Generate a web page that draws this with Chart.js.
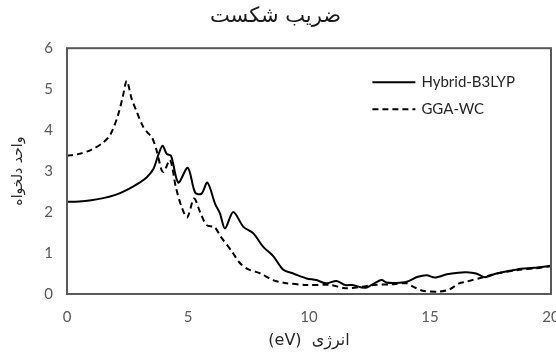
<!DOCTYPE html>
<html><head><meta charset="utf-8">
<script src="https://cdn.jsdelivr.net/npm/chart.js@4"></script>
<style>html,body{margin:0;padding:0;background:#fff}#w{width:556px;height:356px}</style>
</head><body><div id="w"><canvas id="c"></canvas></div>
<script>
const chartTitle = "ضریب شکست";
const xAxisTitle = "(eV)  انرژی";
const yAxisTitle = "واحد دلخواه";
const seriesNames = ["Hybrid-B3LYP", "GGA-WC"];
const xTicks = [0, 5, 10, 15, 20];
const yTicks = [0, 1, 2, 3, 4, 5, 6];

const hybridEnergy = [0,0.5,1.0,1.5,2.0,2.5,3.0,3.3,3.57,3.77,3.95,4.12,4.3,4.6,4.99,5.3,5.56,5.8,6.12,6.32,6.53,6.87,7.29,7.7,8.11,8.53,8.94,9.35,9.9,10.3,10.7,11.14,11.5,11.8,12.3,12.7,13.0,13.2,13.6,14.04,14.5,14.86,15.2,15.7,16.17,16.5,16.9,17.27,17.75,18.6,19.3,20];
const hybridValue  = [2.25,2.26,2.29,2.34,2.42,2.55,2.72,2.85,3.05,3.39,3.62,3.42,3.37,2.72,3.08,2.47,2.45,2.72,2.2,1.97,1.6,2.0,1.64,1.48,1.15,0.92,0.59,0.5,0.38,0.34,0.26,0.32,0.22,0.22,0.15,0.26,0.34,0.28,0.27,0.3,0.42,0.46,0.4,0.48,0.52,0.53,0.5,0.41,0.5,0.6,0.64,0.69];

const ggaEnergy = [0,0.5,1.0,1.5,1.8,2.1,2.3,2.47,2.67,2.88,3.15,3.36,3.5,3.7,3.91,4.0,4.26,4.5,4.75,4.97,5.25,5.5,5.77,6.1,6.35,6.8,7.15,7.5,8.0,8.5,9.0,9.9,10.9,11.5,12.2,12.66,13.5,14.04,14.3,14.7,15.4,15.8,16.2,16.5,17.2,17.75,18.7,19.4,20];
const ggaValue  = [3.37,3.42,3.52,3.7,3.9,4.35,4.8,5.2,4.77,4.45,4.08,3.92,3.84,3.51,3.02,2.98,3.27,2.6,2.1,1.87,2.33,2.0,1.68,1.63,1.4,1.05,0.75,0.6,0.5,0.34,0.27,0.22,0.22,0.14,0.18,0.22,0.24,0.26,0.18,0.08,0.06,0.11,0.26,0.3,0.41,0.5,0.59,0.63,0.68];

const toPts = (xs, ys) => xs.map((x, i) => ({x: x, y: ys[i]}));

const FONT = "Lato, 'DejaVu Sans', sans-serif";
const ARFONT = "'DejaVu Sans', sans-serif";

const frameAndLegend = {
  id: 'frameAndLegend',
  afterDatasetsDraw(chart) {
    const {ctx, chartArea: a} = chart;
    ctx.save();
    ctx.strokeStyle = '#595959';
    ctx.lineWidth = 2;
    ctx.strokeRect(a.left, a.top, a.right - a.left, a.bottom - a.top);
    const items = chart.data.datasets;
    const x0 = a.left + (a.right - a.left) * 0.631;
    const ys = [a.top + 34, a.top + 61];
    ctx.font = "15px " + FONT;
    ctx.textBaseline = 'middle';
    ctx.fillStyle = '#262626';
    items.forEach((ds, i) => {
      ctx.beginPath();
      ctx.setLineDash(ds.borderDash || []);
      ctx.strokeStyle = ds.borderColor;
      ctx.lineWidth = 2;
      ctx.moveTo(x0, ys[i]);
      ctx.lineTo(x0 + 43, ys[i]);
      ctx.stroke();
      ctx.setLineDash([]);
      ctx.fillText(ds.label, x0 + 49, ys[i]);
    });
    ctx.restore();
  }
};

new Chart(document.getElementById('c'), {
  type: 'line',
  data: {
    datasets: [
      {label: seriesNames[0], data: toPts(hybridEnergy, hybridValue), borderColor: '#000', borderWidth: 2, pointRadius: 0, tension: 0.3, fill: false},
      {label: seriesNames[1], data: toPts(ggaEnergy, ggaValue), borderColor: '#000', borderWidth: 2, borderDash: [6, 4], pointRadius: 0, tension: 0.3, fill: false}
    ]
  },
  options: {
    responsive: true,
    maintainAspectRatio: false,
    animation: false,
    layout: {padding: {left: 0, right: 5, top: 0, bottom: 0}},
    plugins: {
      legend: {display: false},
      tooltip: {enabled: false},
      title: {display: true, text: chartTitle, color: '#1a1a1a', font: {family: ARFONT, size: 21, weight: 'normal'}, padding: {top: 4, bottom: 19}}
    },
    scales: {
      x: {
        type: 'linear', min: 0, max: 20,
        afterBuildTicks: s => { s.ticks = xTicks.map(v => ({value: v})); },
        afterFit: s => { s.height = 62; s.paddingLeft = 0; s.paddingRight = 0; },
        grid: {display: false, drawTicks: false},
        border: {display: false},
        ticks: {padding: 14, color: '#595959', font: {family: FONT, size: 15}, maxRotation: 0},
        title: {display: true, text: xAxisTitle, color: '#262626', font: {family: ARFONT, size: 16}, padding: {bottom: 6}}
      },
      y: {
        type: 'linear', min: 0, max: 6,
        afterBuildTicks: s => { s.ticks = yTicks.map(v => ({value: v})); },
        afterFit: s => { s.width = 67; s.paddingTop = 0; s.paddingBottom = 0; },
        grid: {display: false, drawTicks: false},
        border: {display: false},
        ticks: {padding: 14, color: '#595959', font: {family: FONT, size: 15}},
        title: {display: true, text: yAxisTitle, color: '#262626', font: {family: ARFONT, size: 14}, padding: {top: 10}}
      }
    }
  },
  plugins: [frameAndLegend]
});
</script></body></html>
